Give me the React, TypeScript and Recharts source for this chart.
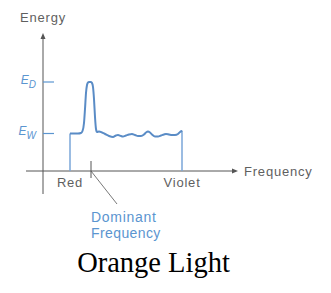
import React from 'react';
import { ComposedChart, Line, XAxis, YAxis, ReferenceLine } from 'recharts';

// Spectrum of orange light: frequency (arbitrary units) vs energy (arbitrary units)
const FREQ = [27, 30, 35, 38, 39.5, 41, 42, 43, 44, 45, 46, 48, 49, 50, 51, 52, 53, 54, 56, 59, 62, 66, 70, 73, 75, 78, 80, 83, 86, 89, 92, 95, 98, 101, 103, 105, 107, 109, 112, 115, 118, 121, 123, 126, 129, 132, 135, 137, 138.5, 139];
const ENERGY = [37.5, 37.5, 37.5, 38, 40, 48, 62, 78, 86, 88.5, 89, 89, 88, 84, 72, 54, 42, 39, 39.5, 38.5, 37, 35, 34, 35.5, 36, 35, 34.5, 35.5, 36.5, 37, 36, 35, 35, 36.5, 38.5, 39.5, 38.5, 36.5, 34.5, 34.5, 35.5, 36.5, 37, 36.5, 36, 36, 37, 39, 40, 38.5];

const X_DOMAIN = [-17, 195];
const Y_DOMAIN = [-33, 138];
const Y_AXIS_BOTTOM = -23;
const E_D = 89;
const E_W = 37.5;
const TICK_LEN = 11;
const DOMINANT = 48;
const DOMINANT_TICK = [10, -7];
const LEADER_END = { x: 74, y: -33 };

const EDGE_LABELS = ['Red', 'Violet'];
const AXIS_LABELS = { y: 'Energy', x: 'Frequency' };
const DOMINANT_LABEL = ['Dominant', 'Frequency'];
const TITLE = 'Orange Light';

const data = FREQ.map((f, i) => ({ freq: f, energy: ENERGY[i] }));

const AXIS_COLOR = '#555';
const CURVE_COLOR = '#5a8cc6';
const EDGE_COLOR = '#7aa6d8';
const BLUE_TEXT = '#5b95d0';
const GRAY_TEXT = '#5f5f5f';
const SANS = '"Liberation Sans", Arial, sans-serif';

const arrowShape = (caption: string, dx: number, dy: number) => (p: any) => {
  const { x1, y1, x2, y2 } = p;
  const ang = Math.atan2(y2 - y1, x2 - x1);
  const L = 6;
  const W = 2.5;
  const bx = x2 - L * Math.cos(ang);
  const by = y2 - L * Math.sin(ang);
  const q1 = `${bx + W * Math.sin(ang)},${by - W * Math.cos(ang)}`;
  const q2 = `${bx - W * Math.sin(ang)},${by + W * Math.cos(ang)}`;
  return (
    <g>
      <line x1={x1} y1={y1} x2={bx} y2={by} stroke={AXIS_COLOR} strokeWidth={1} />
      <polygon points={`${x2},${y2} ${q1} ${q2}`} fill={AXIS_COLOR} />
      <text x={x2 + dx} y={y2 + dy} fill={GRAY_TEXT} fontFamily={SANS} fontSize={13} letterSpacing={0.8}>
        {caption}
      </text>
    </g>
  );
};

const edgeShape = (caption: string) => (p: any) => {
  const { x1, y1, x2, y2 } = p;
  const base = Math.max(y1, y2);
  return (
    <g>
      <line x1={x1} y1={y1} x2={x2} y2={y2} stroke={EDGE_COLOR} strokeWidth={1.5} />
      <text x={x1} y={base + 16} textAnchor="middle" fill={GRAY_TEXT} fontFamily={SANS} fontSize={13} letterSpacing={0.8}>
        {caption}
      </text>
    </g>
  );
};

const energyTick = (sub: string) => (p: any) => {
  const { x1, y1, x2, y2 } = p;
  return (
    <g>
      <line x1={x1} y1={y1} x2={x2} y2={y2} stroke={BLUE_TEXT} strokeWidth={1.2} />
      <text x={x1 - 7} y={y1 + 1.5} textAnchor="end" fill={BLUE_TEXT} fontFamily={SANS} fontSize={12} fontStyle="italic">
        E
        <tspan fontSize={10} dy={4}>{sub}</tspan>
      </text>
    </g>
  );
};

const leaderShape = (p: any) => {
  const { x1, y1, x2, y2 } = p;
  return (
    <g>
      <line x1={x1} y1={y1} x2={x2} y2={y2} stroke={AXIS_COLOR} strokeWidth={0.8} />
      <text x={x1} y={y2 + 18} fill={BLUE_TEXT} fontFamily={SANS} fontSize={14} letterSpacing={0.7}>
        {DOMINANT_LABEL[0]}
      </text>
      <text x={x1} y={y2 + 34} fill={BLUE_TEXT} fontFamily={SANS} fontSize={14} letterSpacing={0.4}>
        {DOMINANT_LABEL[1]}
      </text>
    </g>
  );
};

export default function App() {
  const first = data[0];
  const last = data[data.length - 1];
  return (
    <div style={{ position: 'absolute', left: 0, top: 0, width: 331, height: 293, background: '#fff' }}>
      <ComposedChart
        width={331}
        height={293}
        data={data}
        margin={{ top: 33, right: 93, bottom: 89, left: 26 }}
      >
        <XAxis dataKey="freq" type="number" domain={X_DOMAIN} allowDataOverflow hide />
        <YAxis type="number" domain={Y_DOMAIN} allowDataOverflow hide />
        <ReferenceLine
          segment={[{ x: 0, y: Y_AXIS_BOTTOM }, { x: 0, y: Y_DOMAIN[1] }]}
          ifOverflow="visible"
          shape={arrowShape(AXIS_LABELS.y, -23, -11)}
        />
        <ReferenceLine
          segment={[{ x: X_DOMAIN[0], y: 0 }, { x: X_DOMAIN[1], y: 0 }]}
          ifOverflow="visible"
          shape={arrowShape(AXIS_LABELS.x, 6, 5)}
        />
        <ReferenceLine
          segment={[{ x: 0, y: E_D }, { x: TICK_LEN, y: E_D }]}
          ifOverflow="visible"
          shape={energyTick('D')}
        />
        <ReferenceLine
          segment={[{ x: 0, y: E_W }, { x: TICK_LEN, y: E_W }]}
          ifOverflow="visible"
          shape={energyTick('W')}
        />
        <ReferenceLine
          segment={[{ x: first.freq, y: 0 }, { x: first.freq, y: first.energy }]}
          ifOverflow="visible"
          shape={edgeShape(EDGE_LABELS[0])}
        />
        <ReferenceLine
          segment={[{ x: last.freq, y: 0 }, { x: last.freq, y: last.energy }]}
          ifOverflow="visible"
          shape={edgeShape(EDGE_LABELS[1])}
        />
        <ReferenceLine
          segment={[{ x: DOMINANT, y: DOMINANT_TICK[0] }, { x: DOMINANT, y: DOMINANT_TICK[1] }]}
          ifOverflow="visible"
          stroke={AXIS_COLOR}
          strokeWidth={1}
        />
        <ReferenceLine
          segment={[{ x: DOMINANT, y: 0 }, LEADER_END]}
          ifOverflow="visible"
          shape={leaderShape}
        />
        <Line
          dataKey="energy"
          type="monotone"
          stroke={CURVE_COLOR}
          strokeWidth={2}
          dot={false}
          activeDot={false}
          isAnimationActive={false}
        />
      </ComposedChart>
      <div
        style={{
          position: 'absolute',
          left: 0,
          top: 249.4,
          width: 307,
          textAlign: 'center',
          fontFamily: '"Liberation Serif", "Times New Roman", serif',
          fontSize: 28.5,
          lineHeight: '28.5px',
          color: '#000',
          whiteSpace: 'nowrap',
        }}
      >
        {TITLE}
      </div>
    </div>
  );
}
